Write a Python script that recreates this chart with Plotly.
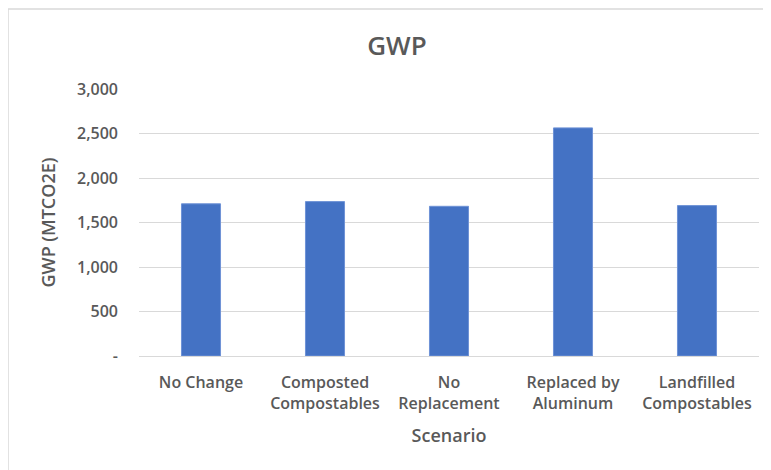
import plotly.graph_objects as go

scenarios = ['No Change', 'Composted<br>Compostables', 'No<br>Replacement',
             'Replaced by<br>Aluminum', 'Landfilled<br>Compostables']
gwp = [1710, 1735, 1682, 2563, 1690]

y_ticks = [0, 500, 1000, 1500, 2000, 2500, 3000]
y_labels = ['-', '500', '1,000', '1,500', '2,000', '2,500', '3,000']

grey = '#595959'
font = 'Open Sans'

fig = go.Figure()
fig.add_trace(go.Bar(x=scenarios, y=gwp, marker_color='#4472C4',
                     marker_line_color='#6f93d6', marker_line_width=1))

# page is drawn with an 8px body margin, so everything is shifted up/left by 8
fig.update_layout(
    width=771, height=470,
    margin=dict(l=131, r=20, t=81, b=122),
    plot_bgcolor='white', paper_bgcolor='white',
    bargap=0.685,
    showlegend=False,
    font=dict(family=font, size=16, color=grey),
    title=dict(text='GWP', x=0.5045, xanchor='center', y=0.919, yanchor='middle',
               font=dict(family=font, size=26, color=grey, weight=600)),
    shapes=[dict(type='rect', xref='paper', yref='paper',
                 x0=-0.2113, x1=1.2, y0=-0.6, y1=1.30,
                 line=dict(color='#d9d9d9', width=1.5), fillcolor='rgba(0,0,0,0)')],
)

fig.update_xaxes(
    showgrid=False, showline=True, linecolor='#d9d9d9', linewidth=1,
    tickfont=dict(family=font, size=16, color=grey, weight=600),
    ticklabelstandoff=12,
    title=dict(text='Scenario', font=dict(family=font, size=18, color=grey, weight=600), standoff=16),
)
fig.update_yaxes(
    range=[0, 3000], tickvals=y_ticks, ticktext=y_labels,
    showgrid=True, gridcolor='#d9d9d9', gridwidth=1, zeroline=False,
    tickfont=dict(family=font, size=16, color=grey, weight=600),
    ticklabelstandoff=20,
    title=dict(text='GWP (MTCO2E)', font=dict(family=font, size=18, color=grey, weight=600), standoff=16),
)

fig.write_html('out.html')
